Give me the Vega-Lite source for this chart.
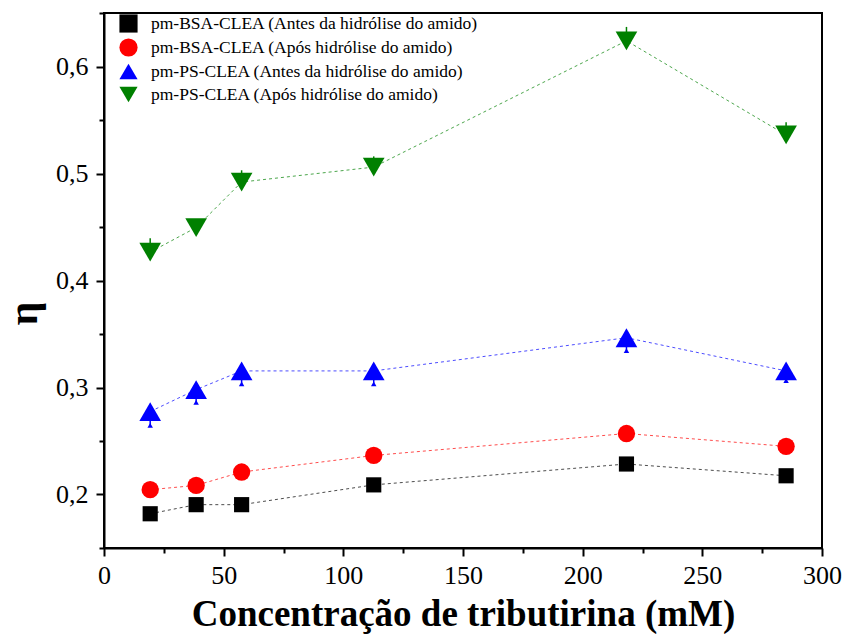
{
  "$schema": "https://vega.github.io/schema/vega-lite/v6.json",
  "width": 718,
  "height": 535,
  "autosize": {"type": "none"},
  "padding": {"left": 104, "top": 13, "right": 23, "bottom": 86},
  "background": "white",
  "config": {
    "view": {"stroke": "black", "strokeWidth": 2},
    "font": "Liberation Serif"
  },
  "data": {
    "values": [
      {"serie": "pm-BSA-CLEA (Antes da hidrólise do amido)", "c": 19.3, "eta": 0.182},
      {"serie": "pm-BSA-CLEA (Antes da hidrólise do amido)", "c": 38.5, "eta": 0.1905},
      {"serie": "pm-BSA-CLEA (Antes da hidrólise do amido)", "c": 57.5, "eta": 0.1905},
      {"serie": "pm-BSA-CLEA (Antes da hidrólise do amido)", "c": 112.7, "eta": 0.209},
      {"serie": "pm-BSA-CLEA (Antes da hidrólise do amido)", "c": 218.3, "eta": 0.2285},
      {"serie": "pm-BSA-CLEA (Antes da hidrólise do amido)", "c": 285, "eta": 0.2175},
      {"serie": "pm-BSA-CLEA (Após hidrólise do amido)", "c": 19.3, "eta": 0.2045},
      {"serie": "pm-BSA-CLEA (Após hidrólise do amido)", "c": 38.5, "eta": 0.2085},
      {"serie": "pm-BSA-CLEA (Após hidrólise do amido)", "c": 57.5, "eta": 0.221},
      {"serie": "pm-BSA-CLEA (Após hidrólise do amido)", "c": 112.7, "eta": 0.2365},
      {"serie": "pm-BSA-CLEA (Após hidrólise do amido)", "c": 218.3, "eta": 0.257},
      {"serie": "pm-BSA-CLEA (Após hidrólise do amido)", "c": 285, "eta": 0.245},
      {"serie": "pm-PS-CLEA (Antes da hidrólise do amido)", "c": 19.3, "eta": 0.2775, "lo": 0.2645, "hi": 0.2775},
      {"serie": "pm-PS-CLEA (Antes da hidrólise do amido)", "c": 38.5, "eta": 0.298, "lo": 0.286, "hi": 0.298},
      {"serie": "pm-PS-CLEA (Antes da hidrólise do amido)", "c": 57.5, "eta": 0.3155, "lo": 0.3035, "hi": 0.3155},
      {"serie": "pm-PS-CLEA (Antes da hidrólise do amido)", "c": 112.7, "eta": 0.3155, "lo": 0.3035, "hi": 0.3155},
      {"serie": "pm-PS-CLEA (Antes da hidrólise do amido)", "c": 218.3, "eta": 0.3465, "lo": 0.3345, "hi": 0.3465},
      {"serie": "pm-PS-CLEA (Antes da hidrólise do amido)", "c": 285, "eta": 0.3155, "lo": 0.3065, "hi": 0.3155},
      {"serie": "pm-PS-CLEA (Após hidrólise do amido)", "c": 19.3, "eta": 0.4265, "lo": 0.4265, "hi": 0.4395},
      {"serie": "pm-PS-CLEA (Após hidrólise do amido)", "c": 38.5, "eta": 0.4495, "lo": 0.4495, "hi": 0.4575},
      {"serie": "pm-PS-CLEA (Após hidrólise do amido)", "c": 57.5, "eta": 0.492, "lo": 0.492, "hi": 0.503},
      {"serie": "pm-PS-CLEA (Após hidrólise do amido)", "c": 112.7, "eta": 0.506, "lo": 0.506, "hi": 0.516},
      {"serie": "pm-PS-CLEA (Após hidrólise do amido)", "c": 218.3, "eta": 0.624, "lo": 0.624, "hi": 0.637},
      {"serie": "pm-PS-CLEA (Após hidrólise do amido)", "c": 285, "eta": 0.536, "lo": 0.536, "hi": 0.548}
    ]
  },
  "encoding": {
    "x": {
      "field": "c", "type": "quantitative",
      "scale": {"domain": [0, 300], "nice": false, "zero": false},
      "axis": {
        "title": "Concentração de tributirina (mM)",
        "titleFont": "Liberation Serif", "titleFontSize": 37, "titleFontWeight": "bold", "titleColor": "black",
        "titleY": 77, "titleBaseline": "alphabetic",
        "values": [0, 25, 50, 75, 100, 125, 150, 175, 200, 225, 250, 275, 300],
        "labelExpr": "datum.value % 50 === 0 ? datum.label : ''",
        "labelFont": "Liberation Serif", "labelFontSize": 26, "labelColor": "black", "labelPadding": 6,
        "labelFlush": false,
        "grid": false,
        "domainColor": "black", "domainWidth": 2,
        "tickColor": "black", "tickWidth": 2,
        "tickSize": {"condition": {"test": "datum.value % 50 === 0", "value": 8}, "value": 5}
      }
    },
    "y": {
      "field": "eta", "type": "quantitative",
      "scale": {"domain": [0.15, 0.65], "nice": false, "zero": false},
      "axis": {
        "title": "η",
        "titleFont": "Liberation Serif", "titleFontSize": 42, "titleFontWeight": "bold", "titleColor": "black",
        "titleX": -59, "titleY": 300,
        "values": [0.15, 0.2, 0.25, 0.3, 0.35, 0.4, 0.45, 0.5, 0.55, 0.6, 0.65],
        "labelExpr": "abs(datum.value*10 - round(datum.value*10)) < 0.001 ? replace(format(datum.value, '.1f'), '.', ',') : ''",
        "labelFont": "Liberation Serif", "labelFontSize": 26, "labelColor": "black", "labelPadding": 8,
        "labelFlush": false,
        "grid": false,
        "domainColor": "black", "domainWidth": 2,
        "tickColor": "black", "tickWidth": 2,
        "tickSize": {"condition": {"test": "abs(datum.value*10 - round(datum.value*10)) < 0.001", "value": 8}, "value": 5}
      }
    },
    "color": {"field": "serie", "type": "nominal",
      "scale": {"domain": ["pm-BSA-CLEA (Antes da hidrólise do amido)", "pm-BSA-CLEA (Após hidrólise do amido)", "pm-PS-CLEA (Antes da hidrólise do amido)", "pm-PS-CLEA (Após hidrólise do amido)"],
                "range": ["#000000", "#ff0000", "#0000ff", "#008000"]},
      "legend": {
        "title": null, "orient": "none", "legendX": 15, "legendY": 1,
        "padding": 0, "rowPadding": 5, "labelFont": "Liberation Serif", "labelFontSize": 17.5,
        "labelColor": "black", "labelOffset": 13, "symbolSize": 330, "symbolOpacity": 1,
        "labelLimit": 500, "symbolStrokeWidth": 0,
        "symbolType": "square",
        "encode": {"symbols": {"update": {"opacity": {"value": 1}, "fillOpacity": {"value": 1}, "strokeOpacity": {"value": 0}}}}
      }
    },
    "shape": {"field": "serie", "type": "nominal",
      "scale": {"domain": ["pm-BSA-CLEA (Antes da hidrólise do amido)", "pm-BSA-CLEA (Após hidrólise do amido)", "pm-PS-CLEA (Antes da hidrólise do amido)", "pm-PS-CLEA (Após hidrólise do amido)"],
                "range": ["square", "circle", "triangle-up", "triangle-down"]}}
  },
  "layer": [
    {
      "mark": {"type": "line", "strokeDash": [3, 3], "strokeWidth": 1, "strokeOpacity": 0.7}
    },
    {
      "mark": {"type": "rule", "strokeWidth": 1.5},
      "encoding": {
        "y": {"field": "lo", "type": "quantitative"},
        "y2": {"field": "hi"}
      }
    },
    {
      "transform": [{"filter": "datum.serie == 'pm-BSA-CLEA (Antes da hidrólise do amido)'"}],
      "mark": {"type": "point", "filled": true, "opacity": 1, "strokeWidth": 0, "size": 230}
    },
    {
      "transform": [{"filter": "datum.serie == 'pm-BSA-CLEA (Após hidrólise do amido)'"}],
      "mark": {"type": "point", "filled": true, "opacity": 1, "strokeWidth": 0, "size": 300}
    },
    {
      "transform": [{"filter": "indexof(datum.serie, 'pm-PS') === 0"}],
      "mark": {"type": "point", "filled": true, "opacity": 1, "strokeWidth": 0, "size": 470}
    }
  ]
}
